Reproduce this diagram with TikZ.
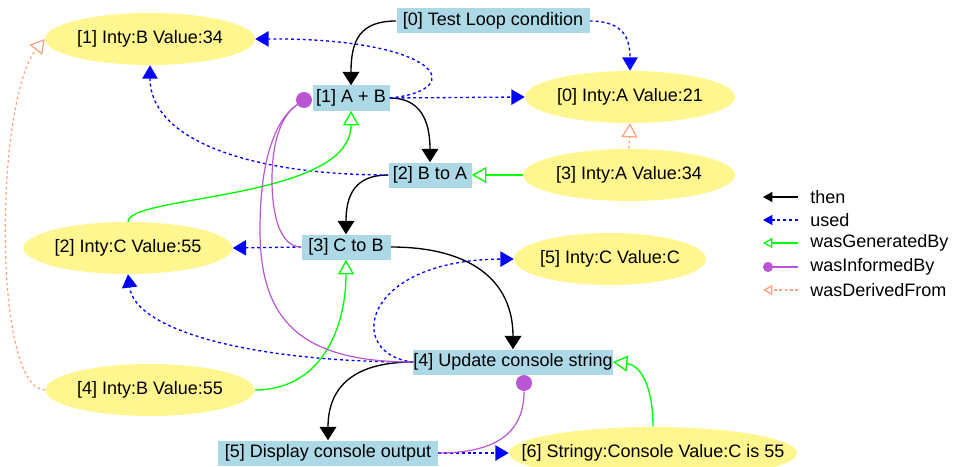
\documentclass[tikz,border=0pt]{standalone}
\usepackage{fontspec}
\setmainfont{Liberation Sans}
\usetikzlibrary{arrows.meta,shapes.geometric}
\definecolor{boxblue}{HTML}{ADD8E6}
\definecolor{ellyel}{HTML}{FFF68F}
\definecolor{useblue}{HTML}{0000FF}
\definecolor{genlime}{HTML}{00FF00}
\definecolor{inforch}{HTML}{BA55D3}
\definecolor{dersal}{HTML}{FFA07A}
\newcommand{\etxt}[1]{\makebox[0pt]{#1}}
\begin{document}
\begin{tikzpicture}[x=0.75pt,y=-0.75pt,
  every node/.style={font=\fontsize{13.5}{16}\selectfont},
  act/.style={rectangle, fill=boxblue, inner sep=0pt, minimum height=18.75pt},
  ent/.style={ellipse, fill=ellyel, inner sep=0pt, minimum height=39pt},
  thenarr/.style={draw=black, line width=1pt, -{Triangle[length=10pt,width=12.5pt]}},
  usedarr/.style={draw=useblue, line width=1pt, dash pattern=on 2.2pt off 2.2pt, -{Triangle[length=10pt,width=11.5pt]}},
  genarr/.style={draw=genlime, line width=1pt, -{Triangle[open,length=11pt,width=12pt]}},
  infarr/.style={draw=inforch, line width=0.9pt},
  derarr/.style={draw=dersal, line width=0.9pt, dash pattern=on 2pt off 2pt, -{Triangle[open,length=10.5pt,width=12pt]}},
  dotnode/.style={circle, fill=inforch, inner sep=0pt, minimum size=12pt},
  lgthen/.style={draw=black, line width=1pt, -{Triangle[length=7pt,width=7.5pt]}},
  lgused/.style={draw=useblue, line width=1pt, dash pattern=on 2.2pt off 2.2pt, -{Triangle[length=7pt,width=7.5pt]}},
  lggen/.style={draw=genlime, line width=1pt, -{Triangle[open,length=7pt,width=7.5pt]}},
  lginf/.style={draw=inforch, line width=1pt, -{Circle[length=7.5pt]}},
  lgder/.style={draw=dersal, line width=1pt, dash pattern=on 2pt off 2pt, -{Triangle[open,length=7pt,width=7.5pt]}},
  lgtext/.style={anchor=west, inner sep=0pt},
]
\useasboundingbox (0,0) rectangle (953,467);

% activities
\node[act, minimum width=144.75pt] (t0) at (493,21) {[0] Test Loop condition};
\node[act, minimum width=57.75pt] (a1) at (351,98) {[1] A + B};
\node[act, minimum width=62.25pt] (b2) at (430,175) {[2] B to A};
\node[act, minimum width=66.75pt] (c3) at (346,247) {[3] C to B};
\node[act, minimum width=144.75pt] (u4) at (513,362) {[4] Update console string};
\node[act, minimum width=165pt] (d5) at (328,453) {[5] Display console output};

% entities
\node[ent, minimum width=157.5pt] (ib1) at (150,39) {\etxt{[1] Inty:B Value:34}};
\node[ent, minimum width=157.5pt] (i0) at (630,97) {\etxt{[0] Inty:A Value:21}};
\node[ent, minimum width=159pt] (is3) at (629,175) {\etxt{[3] Inty:A Value:34}};
\node[ent, minimum width=156.75pt] (ic2) at (128,248) {\etxt{[2] Inty:C Value:55}};
\node[ent, minimum width=144pt] (ic5) at (610,259) {\etxt{[5] Inty:C Value:C}};
\node[ent, minimum width=156.75pt] (ib4) at (150,390) {\etxt{[4] Inty:B Value:55}};
\node[ent, minimum width=216pt] (is6) at (653,453) {\etxt{[6] Stringy:Console Value:C is 55}};

% then
\draw[thenarr] (t0.west) .. controls (360,21) and (351,40) .. (a1.north);
\draw[thenarr] (a1.east) .. controls (420,98) and (430,120) .. (b2.north);
\draw[thenarr] (b2.west) .. controls (355,175) and (346,195) .. (c3.north);
\draw[thenarr] (c3.east) .. controls (470,247) and (513,280) .. (u4.north);
\draw[thenarr] (u4.west) .. controls (350,362) and (328,390) .. (d5.north);

% used
\draw[usedarr] (t0.east) .. controls (625,21) and (630,40) .. (i0.north);
\draw[usedarr] (a1.east) .. controls (470,90) and (440,38) .. (ib1.east);
\draw[usedarr] (a1.east) -- (i0.west);
\draw[usedarr] (b2.west) .. controls (250,175) and (150,140) .. (ib1.south);
\draw[usedarr] (c3.west) -- (ic2.east);
\draw[usedarr] (u4.west) .. controls (250,362) and (135,330) .. (ic2.south);
\draw[usedarr] (u4.west) .. controls (345,355) and (360,260) .. (ic5.west);
\draw[usedarr] (d5.east) -- (is6.west);

% wasGeneratedBy
\draw[genarr] (ic2.north) .. controls (128,195) and (351,200) .. (a1.south);
\draw[genarr] (is3.west) -- (b2.east);
\draw[genarr] (ib4.east) .. controls (320,390) and (346,330) .. (c3.south);
\draw[genarr] (is6.north) .. controls (653,385) and (640,365) .. (u4.east);

% wasInformedBy
\node[dotnode] (dot1) at (304,100) {};
\node[dotnode] (dot2) at (524,383) {};
\draw[infarr] (c3.west) .. controls (280,247) and (272,215) .. (272,180) .. controls (272,140) and (282,115) .. (dot1);
\draw[infarr] (u4.west) .. controls (300,362) and (260,320) .. (260,230) .. controls (260,160) and (275,120) .. (dot1);
\draw[infarr] (d5.east) .. controls (500,453) and (524,430) .. (dot2);

% wasDerivedFrom
\draw[derarr] (is3.north) -- (i0.south);
\draw[derarr] (ib4.west) .. controls (-8,390) and (-5,100) .. (ib1.west);

% legend
\coordinate (l1a) at (798,197); \coordinate (l1b) at (763,197);
\coordinate (l2a) at (798,220); \coordinate (l2b) at (763,220);
\coordinate (l3a) at (798,243); \coordinate (l3b) at (763,243);
\coordinate (l4a) at (798,267); \coordinate (l4b) at (763,267);
\coordinate (l5a) at (798,290); \coordinate (l5b) at (763,290);
\draw[lgthen] (l1a) -- (l1b);
\draw[lgused] (l2a) -- (l2b);
\draw[lggen] (l3a) -- (l3b);
\draw[lginf] (l4a) -- (l4b);
\draw[lgder] (l5a) -- (l5b);
\node[lgtext] (lt1) at (810,197) {then};
\node[lgtext] (lt2) at (810,220) {used};
\node[lgtext] (lt3) at (810,243) {wasGeneratedBy};
\node[lgtext] (lt4) at (810,267) {wasInformedBy};
\node[lgtext] (lt5) at (810,290) {wasDerivedFrom};
\end{tikzpicture}
\end{document}
